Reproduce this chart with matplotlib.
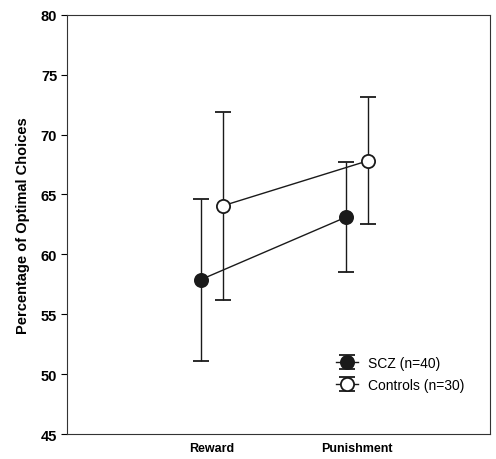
import matplotlib
matplotlib.use('Agg')
import matplotlib.pyplot as plt
import numpy as np

plt.rcParams['font.family'] = ['Liberation Sans', 'DejaVu Sans']

conditions = ['Reward', 'Punishment']
scz_mean = [57.9, 63.1]
scz_low = [51.1, 58.5]
scz_high = [64.6, 67.7]
ctl_mean = [64.05, 67.8]
ctl_low = [56.2, 62.5]
ctl_high = [71.85, 73.1]

x = np.arange(1, len(conditions) + 1)
shift = 0.075

fig = plt.figure(figsize=(4.96, 4.60), dpi=100)
ax = fig.add_axes([0.135, 0.054, 0.853, 0.912])

def draw(xs, mean, low, high, face, label):
    mean = np.array(mean)
    yerr = [mean - np.array(low), np.array(high) - mean]
    ax.errorbar(xs, mean, yerr=yerr, fmt='-o', color='#1a1a1a', mfc=face,
                mec='#1a1a1a', mew=1.3, ms=9.5, lw=1.0, elinewidth=1.0,
                capsize=5.5, capthick=1.0, label=label)

draw(x - shift, scz_mean, scz_low, scz_high, '#1a1a1a', 'SCZ (n=40)')
draw(x + shift, ctl_mean, ctl_low, ctl_high, 'white', 'Controls (n=30)')

ax.set_ylim(45, 80)
ax.set_xlim(0, 2.92)
ax.set_yticks(range(45, 81, 5))
ax.set_xticks(x)
ax.set_xticklabels(conditions, fontweight='bold', fontsize=9)
ax.tick_params(axis='x', length=0, pad=6)
ax.tick_params(axis='y', length=4, width=0.8, labelsize=10.5, pad=3)
for lab in ax.get_yticklabels():
    lab.set_fontweight('bold')
for s in ax.spines.values():
    s.set_linewidth(0.8)
    s.set_color('#333333')
ax.set_ylabel('Percentage of Optimal Choices', fontweight='bold', fontsize=10.5, labelpad=8)

leg = ax.legend(loc='upper left', bbox_to_anchor=(0.635, 0.186), frameon=False,
                borderpad=0, borderaxespad=0,
                fontsize=10, handlelength=1.6, handletextpad=0.7, labelspacing=0.55)

fig.savefig('out.png', dpi=100)
